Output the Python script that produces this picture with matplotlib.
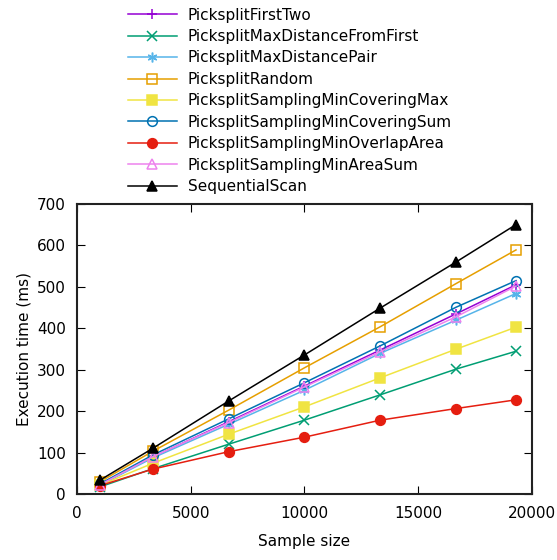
import matplotlib
matplotlib.use("Agg")
import matplotlib.pyplot as plt

plt.rcParams['font.family'] = ['DejaVu Sans']

# Sample sizes (x axis)
sample_size = [1000, 3333, 6667, 10000, 13333, 16667, 19300]

# Execution times in ms
first_two = [24, 90, 175, 261, 348, 435, 505]
max_dist_first = [18, 62, 121, 179, 240, 302, 345]
max_dist_pair = [22, 88, 169, 251, 340, 420, 484]
random_ = [30, 104, 203, 305, 404, 508, 589]
min_cov_max = [22, 75, 145, 211, 281, 350, 403]
min_cov_sum = [25, 95, 182, 269, 358, 451, 515]
min_overlap = [21, 61, 103, 138, 179, 207, 228]
min_area_sum = [23, 91, 173, 259, 344, 428, 502]
seq_scan = [34, 111, 225, 336, 449, 560, 650]

series = [
    ("PicksplitFirstTwo", first_two, "#9400d3", "+", "full"),
    ("PicksplitMaxDistanceFromFirst", max_dist_first, "#009e73", "x", "full"),
    ("PicksplitMaxDistancePair", max_dist_pair, "#56b4e9", (6, 2, 0), "full"),
    ("PicksplitRandom", random_, "#e69f00", "s", "none"),
    ("PicksplitSamplingMinCoveringMax", min_cov_max, "#f0e442", "s", "full"),
    ("PicksplitSamplingMinCoveringSum", min_cov_sum, "#0072b2", "o", "none"),
    ("PicksplitSamplingMinOverlapArea", min_overlap, "#e51e10", "o", "full"),
    ("PicksplitSamplingMinAreaSum", min_area_sum, "#ee82ee", "^", "none"),
    ("SequentialScan", seq_scan, "black", "^", "full"),
]

fig = plt.figure(figsize=(5.57, 5.6), dpi=100)
ax = fig.add_axes([0.138, 0.117, 0.817, 0.519])

for name, vals, color, marker, fill in series:
    ax.plot(sample_size, vals, color=color, marker=marker, markersize=7,
            fillstyle=fill, markeredgewidth=1.1, linewidth=1.1, label=name)

ax.set_xlim(0, 20000)
ax.set_ylim(0, 700)
ax.set_xticks(range(0, 20001, 5000))
ax.set_yticks(range(0, 701, 100))
ax.tick_params(direction="in", top=True, right=True, labelsize=11, length=6, pad=8)
for s in ax.spines.values():
    s.set_linewidth(1.5)
    s.set_color("#222222")
ax.set_xlabel("Sample size", fontsize=11, labelpad=10)
ax.set_ylabel("Execution time (ms)", fontsize=11)

fig.legend(loc="upper left", bbox_to_anchor=(0.216, 1.0), frameon=False,
           fontsize=11, handlelength=3.2, labelspacing=0.42, borderaxespad=0.1,
           handletextpad=0.7)

fig.savefig("out.png", dpi=100)
